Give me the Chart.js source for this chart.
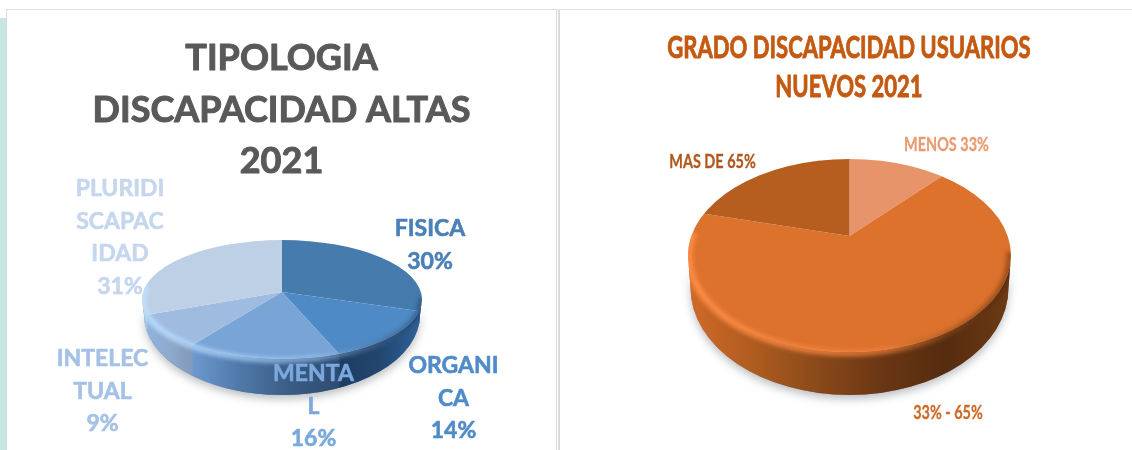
<!DOCTYPE html>
<html>
<head>
<meta charset="utf-8">
<script src="https://cdn.jsdelivr.net/npm/chart.js@4"></script>
<style>
    html, body { margin: 0; padding: 0; background: #fff; overflow: hidden; }
    #page { position: relative; width: 1132px; height: 450px; overflow: hidden; }
    #strip { position: absolute; left: 0; top: 18px; width: 6px; height: 432px; background: #c6e7e3; }
    .panel { position: absolute; top: 9px; height: 445px; background: #fff; border: 1px solid #dcdcdc; box-sizing: border-box; }
    #panelA { left: 6px; width: 551px; }
    #panelB { left: 558px; width: 580px; border-left-width: 2px; }
    canvas { position: absolute; top: 0; }
    #tipoChart { left: 6px; }
    #gradoChart { left: 567px; }
</style>
</head>
<body>
<div id="page">
    <div id="strip"></div>
    <div class="panel" id="panelA"></div>
    <div class="panel" id="panelB"></div>
    <canvas id="tipoChart" width="552" height="450"></canvas>
    <canvas id="gradoChart" width="565" height="450"></canvas>
</div>
<script>
// Datos del primer grafico
var tipoCategorias = ["FISICA", "ORGANICA", "MENTAL", "INTELECTUAL", "PLURIDISCAPACIDAD"];
var tipoValores = [30, 14, 16, 9, 31];
var tipoTitulo = ["TIPOLOGIA", "DISCAPACIDAD ALTAS", "2021"];
var tipoEtiquetas = [
    ["FISICA", "30%"],
    ["ORGANI", "CA", "14%"],
    ["MENTA", "L", "16%"],
    ["INTELEC", "TUAL", "9%"],
    ["PLURIDI", "SCAPAC", "IDAD", "31%"]
];

// Datos del segundo grafico
var gradoCategorias = ["MENOS 33%", "33% - 65%", "MAS DE 65%"];
var gradoValores = [10, 70, 20];
var gradoTitulo = ["GRADO DISCAPACIDAD USUARIOS", "NUEVOS 2021"];
var gradoEtiquetas = [["MENOS 33%"], ["33% - 65%"], ["MAS DE 65%"]];

// Punto de la elipse donde termina el rayo que sale del vertice
function rimPoint(o, angle) {
    var dx = Math.cos(angle), dy = o.sy * Math.sin(angle), d = o.cy - o.apexY;
    var a = dx * dx / (o.rx * o.rx) + dy * dy / (o.ry * o.ry);
    var b = -2 * dy * d / (o.ry * o.ry);
    var c = d * d / (o.ry * o.ry) - 1;
    var t = (-b + Math.sqrt(b * b - 4 * a * c)) / (2 * a);
    return { x: o.apexX + t * dx, y: o.apexY + t * dy };
}

function wallPath(ctx, o) {
    ctx.beginPath();
    ctx.ellipse(o.apexX, o.cy, o.rx, o.ry, 0, Math.PI, 0, true);
    ctx.ellipse(o.apexX, o.bottomCy, o.bottomRx, o.bottomRy, 0, 0, Math.PI, false);
    ctx.closePath();
}

// Contorno completo: cara superior mas pared
function outlinePath(ctx, o) {
    ctx.beginPath();
    ctx.ellipse(o.apexX, o.cy, o.rx, o.ry, 0, Math.PI, 0, false);
    ctx.ellipse(o.apexX, o.bottomCy, o.bottomRx, o.bottomRy, 0, 0, Math.PI, false);
    ctx.closePath();
}

// Texto estrechado y algo engrosado (la fuente original es mas condensada)
function drawText(ctx, line, x, y, condense, weight) {
    ctx.save();
    ctx.translate(x, y);
    ctx.scale(condense, 1);
    ctx.lineWidth = weight;
    ctx.lineJoin = 'round';
    ctx.strokeStyle = ctx.fillStyle;
    ctx.strokeText(line, 0, 0);
    ctx.fillText(line, 0, 0);
    ctx.restore();
}

// Tarta con perspectiva: elipse, vertice descentrado y pared lateral
var pie3d = {
    id: 'pie3d',
    beforeDatasetDraw: function (chart, args, o) {
        var ctx = chart.ctx;
        var arcs = chart.getDatasetMeta(args.index).data;
        ctx.save();
        ctx.translate(-o.offsetX, 0);

        // sombra suave bajo la pared
        ctx.save();
        ctx.shadowColor = 'rgba(60,70,80,0.35)';
        ctx.shadowBlur = 9;
        ctx.shadowOffsetY = 4;
        wallPath(ctx, o);
        ctx.fillStyle = '#888';
        ctx.fill();
        ctx.restore();

        // pared lateral de cada sector
        ctx.save();
        wallPath(ctx, o);
        ctx.clip();
        arcs.forEach(function (arc, i) {
            var minX = Infinity, maxX = -Infinity;
            for (var s = 0; s <= 200; s++) {
                var p = rimPoint(o, arc.startAngle + (arc.endAngle - arc.startAngle) * s / 200);
                if (p.y >= o.cy) {
                    minX = Math.min(minX, p.x);
                    maxX = Math.max(maxX, p.x);
                }
            }
            if (minX === Infinity) return;
            var g = ctx.createLinearGradient(minX, 0, maxX, 0);
            o.wallStops[i].forEach(function (c, k, all) { g.addColorStop(k / (all.length - 1), c); });
            ctx.fillStyle = g;
            ctx.fillRect(minX - 0.5, o.cy - 5, maxX - minX + 1, o.ry + o.bottomRy + 40);
        });
        ctx.restore();

        // cara superior: los sectores los dibuja la propia libreria
        ctx.save();
        ctx.beginPath();
        ctx.ellipse(o.apexX, o.cy, o.rx, o.ry, 0, 0, Math.PI * 2);
        ctx.clip();
        arcs.forEach(function (arc) {
            var k = 3 * o.rx / arc.outerRadius;
            ctx.save();
            ctx.translate(o.apexX, o.apexY);
            ctx.scale(k, k * o.sy);
            ctx.translate(-arc.x, -arc.y);
            arc.draw(ctx);
            ctx.restore();
        });
        ctx.restore();

        // bisel en el borde delantero
        ctx.save();
        outlinePath(ctx, o);
        ctx.clip();
        var bevel = ctx.createLinearGradient(o.apexX - o.rx, 0, o.apexX + o.rx, 0);
        bevel.addColorStop(0, o.bevel[0]);
        bevel.addColorStop(0.62, o.bevel[1]);
        bevel.addColorStop(1, o.bevel[2]);
        ctx.strokeStyle = bevel;
        ctx.lineWidth = o.bevelWidth;
        ctx.filter = 'blur(2px)';
        ctx.beginPath();
        ctx.ellipse(o.apexX, o.cy + 1, o.rx - 1, o.ry, 0, Math.PI + 0.25, -0.05, true);
        ctx.stroke();
        ctx.restore();

        ctx.restore();
        return false;
    },
    afterDatasetsDraw: function (chart, args, o) {
        var ctx = chart.ctx;
        ctx.save();
        ctx.translate(-o.offsetX, 0);
        ctx.textAlign = 'center';
        ctx.textBaseline = 'alphabetic';
        ctx.font = o.headingFont;
        ctx.fillStyle = o.headingColor;
        o.heading.forEach(function (line, n) {
            drawText(ctx, line, o.headingX, o.headingY + n * o.headingStep, o.headingCondense, o.headingWeight);
        });
        ctx.font = o.labelFont;
        o.labels.forEach(function (lines, i) {
            ctx.fillStyle = o.labelColors[i];
            lines.forEach(function (line, n) {
                drawText(ctx, line, o.labelX[i], o.labelY[i] + n * o.labelStep, o.labelCondense, o.labelWeight);
            });
        });
        ctx.restore();
    }
};

var tipoChart = new Chart(document.getElementById("tipoChart").getContext("2d"), {
    type: 'pie',
    data: {
        labels: tipoCategorias,
        datasets: [{
            data: tipoValores,
            backgroundColor: ["#467bae", "#4e8ac5", "#78a4d6", "#9fbbdf", "#bed0e6"],
            borderWidth: 0
        }]
    },
    plugins: [pie3d],
    options: {
        responsive: false,
        animation: false,
        plugins: {
            legend: { display: false },
            tooltip: { enabled: false },
            title: { display: false },
            pie3d: {
                offsetX: 6,
                apexX: 282, apexY: 292,
                cy: 299.5, rx: 140, ry: 59.5, sy: 0.43,
                bottomCy: 315, bottomRx: 138, bottomRy: 80,
                wallStops: [
                    ["#2b5682", "#2b5682"],
                    ["#1d3d62", "#21466f", "#2f6197"],
                    ["#6d99cf", "#4f78a8", "#3b5c85", "#2e4c72"],
                    ["#8fb3de", "#8fa9cc", "#8199ba"],
                    ["#a9c4e6", "#a9c4e6"]
                ],
                bevel: ['rgba(190,225,255,0.9)', 'rgba(160,205,250,0.6)', 'rgba(20,40,70,0.4)'],
                bevelWidth: 6,
                heading: tipoTitulo,
                headingFont: 'bold 36px Lato',
                headingColor: '#595959',
                headingX: 281.5, headingY: 70, headingStep: 51.5,
                headingCondense: 1, headingWeight: 1,
                labels: tipoEtiquetas,
                labelFont: 'bold 23px Lato',
                labelColors: ["#4a80b8", "#4f8bc9", "#7ba8dd", "#a5c1e5", "#c5d6ed"],
                labelX: [430, 453.5, 313.5, 102.5, 120],
                labelY: [236, 373, 381, 366, 196],
                labelStep: 32.7,
                labelCondense: 1, labelWeight: 0.6
            }
        }
    }
});

var gradoChart = new Chart(document.getElementById("gradoChart").getContext("2d"), {
    type: 'pie',
    data: {
        labels: gradoCategorias,
        datasets: [{
            data: gradoValores,
            backgroundColor: ["#e8946a", "#dc722c", "#b55e1f"],
            borderWidth: 0
        }]
    },
    plugins: [pie3d],
    options: {
        responsive: false,
        animation: false,
        plugins: {
            legend: { display: false },
            tooltip: { enabled: false },
            title: { display: false },
            pie3d: {
                offsetX: 567,
                apexX: 849.5, apexY: 236,
                cy: 255.5, rx: 161.5, ry: 96.5, sy: 0.47,
                bottomCy: 288, bottomRx: 159, bottomRy: 107,
                wallStops: [
                    ["#a85a24", "#a85a24"],
                    ["#d06a28", "#b05c20", "#8a4a1a", "#6a3614", "#552c0f", "#6e3a14"],
                    ["#c86a28", "#c86a28"]
                ],
                bevel: ['rgba(255,140,70,0.95)', 'rgba(240,130,60,0.7)', 'rgba(60,25,5,0.4)'],
                bevelWidth: 7,
                heading: gradoTitulo,
                headingFont: 'bold 30px Lato',
                headingColor: '#c45a11',
                headingX: 849, headingY: 58, headingStep: 39,
                headingCondense: 0.735, headingWeight: 0.9,
                labels: gradoEtiquetas,
                labelFont: 'bold 19px Lato',
                labelColors: ["#e99a72", "#cf6a26", "#b0571c"],
                labelX: [946.5, 948, 712.5],
                labelY: [151, 419, 168],
                labelStep: 20,
                labelCondense: 0.76, labelWeight: 0.3
            }
        }
    }
});
</script>
</body>
</html>
